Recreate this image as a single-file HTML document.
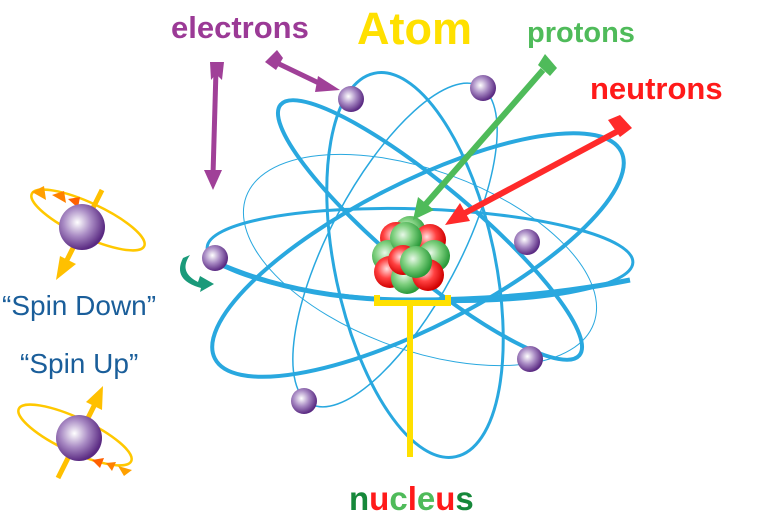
<!DOCTYPE html>
<html><head><meta charset="utf-8"><style>
body{margin:0;background:#fff;}
svg{display:block;}
text{font-family:"Liberation Sans",sans-serif;font-weight:bold;}
</style></head><body>
<svg width="767" height="517" viewBox="0 0 767 517" xmlns="http://www.w3.org/2000/svg">
<defs>
<radialGradient id="e" cx="0.4" cy="0.4" r="0.6"><stop offset="0" stop-color="#fff"/><stop offset="0.5" stop-color="#a98bc4"/><stop offset="1" stop-color="#5a2a82"/></radialGradient>
<radialGradient id="g" cx="0.4" cy="0.4" r="0.6"><stop offset="0" stop-color="#e8f8e8"/><stop offset="0.5" stop-color="#7fd07f"/><stop offset="1" stop-color="#2a9a3a"/></radialGradient>
<radialGradient id="r" cx="0.4" cy="0.4" r="0.6"><stop offset="0" stop-color="#ffe0e0"/><stop offset="0.5" stop-color="#ff4040"/><stop offset="1" stop-color="#d00000"/></radialGradient>
</defs>
<g fill="none" stroke="#29a8df">
<ellipse cx="420" cy="255" rx="213" ry="46" transform="rotate(2 420 255)" stroke-width="3"/>
<ellipse cx="418" cy="255" rx="228" ry="72" transform="rotate(-27 418 255)" stroke-width="4"/>
<ellipse cx="430" cy="230" rx="195" ry="44" transform="rotate(40 430 230)" stroke-width="4"/>
<ellipse cx="415" cy="265" rx="80" ry="196" transform="rotate(-12 415 265)" stroke-width="3"/>
<ellipse cx="395" cy="245" rx="65" ry="180" transform="rotate(28 395 245)" stroke-width="1.5"/>
<ellipse cx="420" cy="260" rx="185" ry="90" transform="rotate(20 420 260)" stroke-width="1"/>
</g>
<path d="M215,262 Q300,300 410,300 Q530,300 630,280" fill="none" stroke="#29a8df" stroke-width="5"/>
<g>
<circle cx="351" cy="99" r="13" fill="url(#e)"/>
<circle cx="483" cy="88" r="13" fill="url(#e)"/>
<circle cx="215" cy="258" r="13" fill="url(#e)"/>
<circle cx="527" cy="242" r="13" fill="url(#e)"/>
<circle cx="530" cy="359" r="13" fill="url(#e)"/>
<circle cx="304" cy="401" r="13" fill="url(#e)"/>
</g>
<g>
<circle cx="410" cy="232" r="16" fill="url(#g)"/>
<circle cx="396" cy="238" r="16" fill="url(#r)"/>
<circle cx="430" cy="240" r="16" fill="url(#r)"/>
<circle cx="388" cy="256" r="16" fill="url(#g)"/>
<circle cx="434" cy="256" r="16" fill="url(#g)"/>
<circle cx="390" cy="272" r="16" fill="url(#r)"/>
<circle cx="407" cy="278" r="16" fill="url(#g)"/>
<circle cx="428" cy="275" r="16" fill="url(#r)"/>
<circle cx="406" cy="238" r="16" fill="url(#g)"/>
<circle cx="403" cy="260" r="15" fill="url(#r)"/>
<circle cx="416" cy="262" r="16" fill="url(#g)"/>
</g>
<g fill="#a04098" stroke="#a04098">
<line x1="216" y1="70" x2="213" y2="175" stroke-width="5"/>
<polygon points="204,170 222,170 213,190" stroke="none"/>
<polygon points="210,62 224,62 222,80 216,74 211,80" stroke="none"/>
<line x1="275" y1="62" x2="325" y2="86" stroke-width="5"/>
<polygon points="318,76 340,90 315,92" stroke="none"/>
<polygon points="265,62 277,50 283,58 276,70" stroke="none"/>
</g>
<g fill="#4fbb5a" stroke="#4fbb5a">
<line x1="543" y1="70" x2="425" y2="205" stroke-width="6"/>
<polygon points="413,220 418,197 434,210" stroke="none"/>
<polygon points="538,65 545,54 557,68 550,76" stroke="none"/>
</g>
<g fill="#ff2a2a" stroke="#ff2a2a">
<line x1="620" y1="130" x2="465" y2="213" stroke-width="6"/>
<polygon points="445,225 460,203 470,221" stroke="none"/>
<polygon points="608,120 620,115 632,128 620,137" stroke="none"/>
</g>
<g fill="none" stroke="#ffe000" stroke-width="6">
<path d="M377,295 V303 H448 V295"/>
<line x1="410" y1="303" x2="410" y2="457"/>
</g>
<path d="M190,255 Q178,272 198,282 L200,276 L214,284 L200,292 L201,288 Q172,280 183,258 Z" fill="#1a9a7a"/>
<text x="171" y="38" font-size="31" fill="#9b3a96">electrons</text>
<text x="357" y="44" font-size="45" fill="#ffe000">Atom</text>
<text x="527" y="42" font-size="29" fill="#4fbb5a">protons</text>
<text x="590" y="99" font-size="31" fill="#ff1a1a">neutrons</text>
<text x="349" y="510" font-size="33"><tspan fill="#16883a">n</tspan><tspan fill="#ff1a1a">u</tspan><tspan fill="#4fbb5a">c</tspan><tspan fill="#ff1a1a">l</tspan><tspan fill="#4fbb5a">e</tspan><tspan fill="#ff1a1a">u</tspan><tspan fill="#16883a">s</tspan></text>
<text x="2" y="315" font-size="28" fill="#1a5e9a" style="font-weight:normal">“Spin Down”</text>
<text x="20" y="373" font-size="28" fill="#1a5e9a" style="font-weight:normal">“Spin Up”</text>
<ellipse cx="88" cy="220" rx="62" ry="17" transform="rotate(25 88 220)" fill="none" stroke="#ffc800" stroke-width="2.5"/>
<line x1="102" y1="190" x2="66" y2="262" stroke="#ffc000" stroke-width="5"/>
<polygon points="56,280 60,256 76,264" fill="#ffc000"/>
<polygon points="32,192 44,186 46,200" fill="#ffa000"/>
<polygon points="52,195 64,191 66,203" fill="#ff8000"/>
<polygon points="68,199 80,197 78,208" fill="#ff6000"/>
<circle cx="82" cy="227" r="23" fill="url(#e)"/>
<ellipse cx="75" cy="435" rx="62" ry="17" transform="rotate(25 75 435)" fill="none" stroke="#ffc800" stroke-width="2.5"/>
<line x1="58" y1="478" x2="96" y2="402" stroke="#ffc000" stroke-width="5"/>
<polygon points="103,386 102,410 86,402" fill="#ffc000"/>
<circle cx="79" cy="438" r="23" fill="url(#e)"/>
<polygon points="92,460 104,458 100,468" fill="#ff6000"/>
<polygon points="106,463 116,462 112,471" fill="#ff8000"/>
<polygon points="118,466 132,470 124,476" fill="#ffa000"/>
</svg>
</body></html>
